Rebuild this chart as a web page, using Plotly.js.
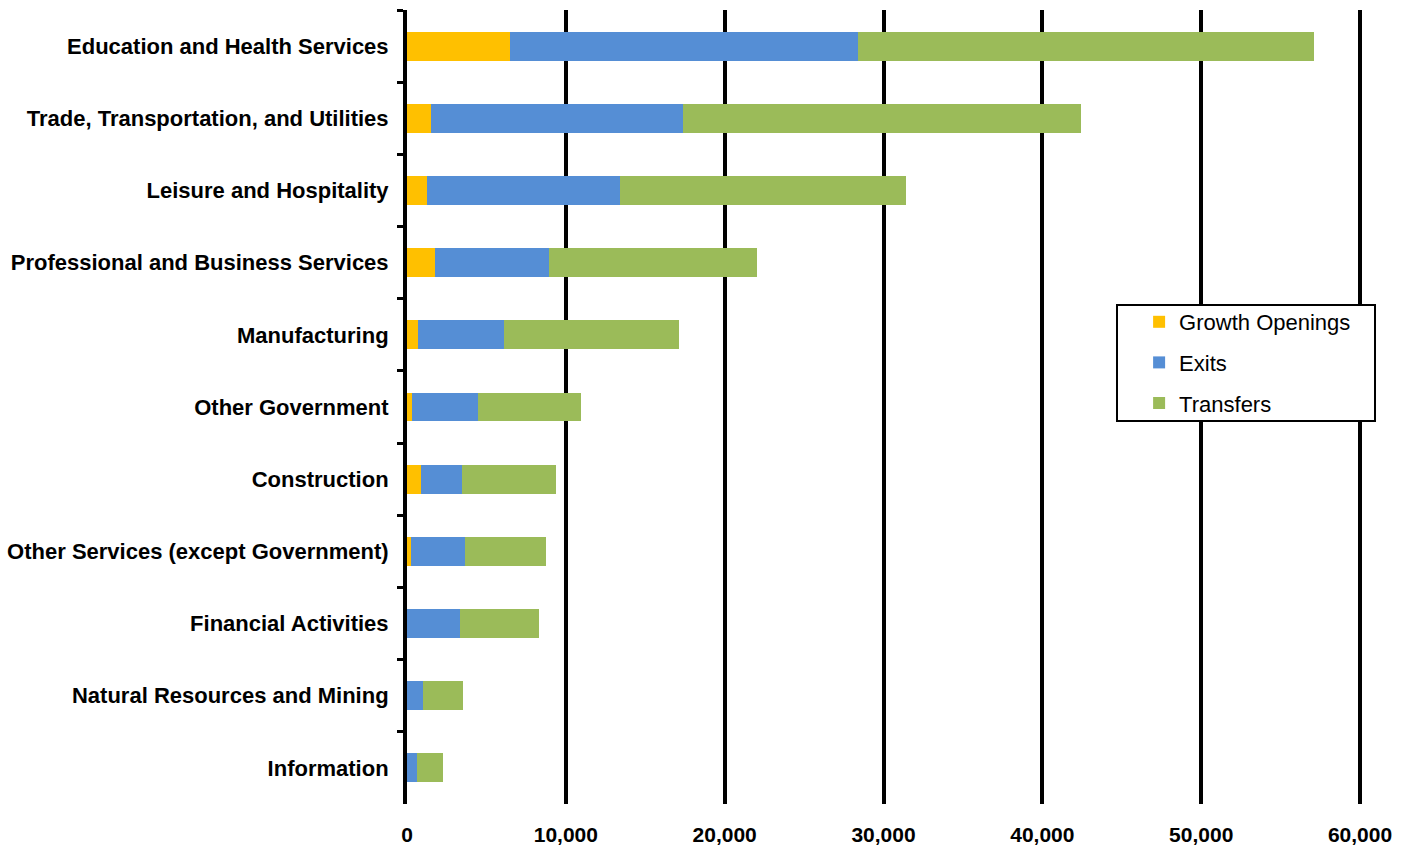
<!DOCTYPE html>
<html>
<head>
<meta charset="utf-8">
<script src="https://cdn.plot.ly/plotly-3.0.1.min.js"></script>
<style>html,body{margin:0;padding:0;background:#fff;}#chart{width:1410px;height:847px;}</style>
</head>
<body>
<div id="chart"></div>
<script>
const industries = [
  "Education and Health Services",
  "Trade, Transportation, and Utilities",
  "Leisure and Hospitality",
  "Professional and Business Services",
  "Manufacturing",
  "Other Government",
  "Construction",
  "Other Services (except Government)",
  "Financial Activities",
  "Natural Resources and Mining",
  "Information"
];
const growthOpenings = [6470, 1530, 1240, 1750, 690, 340, 860, 230, 30, 20, 10];
const exits          = [21900, 15820, 12180, 7220, 5440, 4150, 2610, 3420, 3310, 990, 640];
const transfers      = [28720, 25080, 18020, 13060, 10990, 6470, 5880, 5070, 4980, 2540, 1600];
const xTickVals = [0, 10000, 20000, 30000, 40000, 50000, 60000];
const xTickText = ["0", "10,000", "20,000", "30,000", "40,000", "50,000", "60,000"];

const mk = (name, vals, color) => ({
  type: 'bar', orientation: 'h', name: name, legendgroup: name,
  y: industries, x: vals,
  marker: {color: color, line: {width: 0}},
  hoverinfo: 'x+name'
});

const data = [
  mk('Growth Openings', growthOpenings, '#FFC000'),
  mk('Exits', exits, '#558ED5'),
  mk('Transfers', transfers, '#9BBB59')
];

const layout = {
  width: 1410, height: 847,
  margin: {l: 407, r: 46, t: 10, b: 43},
  paper_bgcolor: '#fff', plot_bgcolor: '#fff',
  barmode: 'stack',
  bargap: 0.6,
  font: {family: 'Liberation Sans, Arial, sans-serif', color: '#000'},
  xaxis: {
    range: [0, 60250],
    tickvals: xTickVals, ticktext: xTickText,
    showgrid: true, gridcolor: '#000', gridwidth: 4,
    zeroline: false, showline: false,
    ticks: '', ticklabelstandoff: 16,
    tickfont: {family: 'Liberation Sans, Arial', size: 21, weight: 'bold', color: '#000'}
  },
  yaxis: {
    type: 'category', autorange: 'reversed',
    showline: true, linecolor: '#000', linewidth: 4,
    ticks: 'outside', tickson: 'boundaries', ticklen: 6, tickwidth: 3, tickcolor: '#000',
    ticklabelstandoff: 10,
    showgrid: false, zeroline: false,
    tickfont: {family: 'Liberation Sans, Arial', size: 22, weight: 'bold', color: '#000'}
  },
  shapes: [{
    type: 'rect', xref: 'paper', yref: 'paper', layer: 'above',
    x0: 0.7419, x1: 1.0115, y0: 0.4824, y1: 0.6285,
    line: {color: '#000', width: 2}, fillcolor: '#fff'
  }],
  legend: {
    x: 0.765, y: 0.6335, xanchor: 'left', yanchor: 'top',
    bgcolor: 'rgba(0,0,0,0)', borderwidth: 0,
    traceorder: 'grouped', tracegroupgap: 9,
    font: {family: 'Liberation Sans, Arial', size: 22, color: '#000'}
  },
  showlegend: true
};

Plotly.newPlot('chart', data, layout, {displayModeBar: false, staticPlot: true});
</script>
</body>
</html>
